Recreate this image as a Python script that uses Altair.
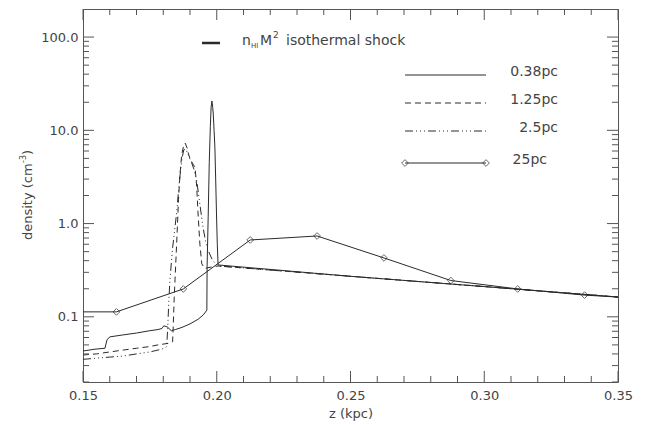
import altair as alt
import pandas as pd

# ---------------- data ----------------
z_038 = [0.1500, 0.1545, 0.1582, 0.1590, 0.1601, 0.1650, 0.1700, 0.1750, 0.1780, 0.1795,
         0.1802, 0.1815, 0.1830, 0.1845, 0.1870, 0.1900, 0.1930, 0.1950, 0.1963, 0.1964,
         0.1968, 0.1972, 0.1976, 0.1979, 0.1982, 0.1985, 0.1987, 0.1990, 0.1993, 0.1996,
         0.1999, 0.2002, 0.2005, 0.2500, 0.3000, 0.3500]
d_038 = [0.043, 0.045, 0.046, 0.057, 0.061, 0.064, 0.067, 0.071, 0.073, 0.075,
         0.080, 0.078, 0.071, 0.073, 0.077, 0.084, 0.094, 0.105, 0.118, 0.35,
         1.2, 4.5, 11.0, 17.8, 20.6, 17.5, 15.0, 10.0, 6.6, 3.0,
         1.3, 0.6, 0.36, 0.272, 0.211, 0.163]

z_125 = [0.150, 0.155, 0.160, 0.165, 0.170, 0.175, 0.178, 0.182, 0.1835, 0.1838,
         0.1841, 0.1844, 0.1850, 0.1857, 0.1863, 0.1869, 0.1876, 0.1882, 0.1888, 0.1895,
         0.1900, 0.1910, 0.1919, 0.1925, 0.1930, 0.1937, 0.1944, 0.1955, 0.1975, 0.2005,
         0.2500, 0.3000, 0.3500]
d_125 = [0.039, 0.040, 0.042, 0.044, 0.046, 0.048, 0.050, 0.052, 0.054, 0.09,
         0.16, 0.25, 0.6, 1.8, 3.5, 5.5, 6.8, 7.3, 6.6, 5.5,
         5.0, 4.4, 4.0, 2.5, 1.3, 0.6, 0.37, 0.33, 0.34, 0.351,
         0.272, 0.211, 0.163]

z_25 = [0.150, 0.155, 0.160, 0.165, 0.170, 0.175, 0.178, 0.1805, 0.1813, 0.1817,
        0.1821, 0.1825, 0.1835, 0.1850, 0.1860, 0.1870, 0.1877, 0.1884, 0.1892, 0.1900,
        0.1906, 0.1915, 0.1925, 0.1937, 0.1949, 0.1958, 0.1967, 0.1985, 0.2005, 0.2500,
        0.3000, 0.3500]
d_25 = [0.035, 0.036, 0.037, 0.038, 0.040, 0.042, 0.044, 0.046, 0.048, 0.08,
        0.15, 0.25, 0.55, 1.3, 2.8, 5.0, 6.2, 6.3, 5.6, 4.9,
        4.5, 3.8, 2.9, 1.6, 0.9, 0.65, 0.52, 0.40, 0.351, 0.272,
        0.211, 0.163]

z_25pc = [0.1375, 0.1625, 0.1875, 0.2125, 0.2375, 0.2625, 0.2875, 0.3125, 0.3375, 0.3625]
d_25pc = [0.113, 0.113, 0.199, 0.667, 0.736, 0.428, 0.245, 0.199, 0.171, 0.155]

x_ticks = [0.15, 0.20, 0.25, 0.30, 0.35]
x_minor = [0.16, 0.17, 0.18, 0.19, 0.21, 0.22, 0.23, 0.24, 0.26, 0.27, 0.28, 0.29,
           0.31, 0.32, 0.33, 0.34]
y_ticks = [0.1, 1.0, 10.0, 100.0]
y_minor = [m * 10 ** e for e in (-2, -1, 0, 1) for m in range(2, 10)]

legend_names = ["0.38pc", "1.25pc", "2.5pc", "25pc"]

# ---------------- style ----------------
W, H = 535, 373
FONT = "DejaVu Sans"
TXT = "#444444"
LINE = "#2a2a2a"
AX = "#555555"

xs = alt.Scale(domain=[0.15, 0.35], nice=False, zero=False)
ys = alt.Scale(type="log", domain=[0.02, 200], nice=False)

x_axis = alt.Axis(values=x_ticks, format=".2f", ticks=False, tickSize=0, domain=False,
                  grid=False, labelPadding=7, title="z (kpc)", titlePadding=5,
                  labelFont=FONT, titleFont=FONT, labelFontSize=13, titleFontSize=13,
                  labelColor=TXT, titleColor=TXT, titleFontWeight="normal",
                  labelFlush=False)
y_axis = alt.Axis(values=y_ticks, format=".1f", ticks=False, tickSize=0, domain=False,
                  grid=False, labelPadding=5, title=None,
                  labelFont=FONT, labelFontSize=13, labelColor=TXT)


def series_df(zs, ds):
    return pd.DataFrame({"z": zs, "d": ds, "o": list(range(len(zs)))})


def X(field):
    return alt.X(field, scale=xs, axis=x_axis)


def Y(field):
    return alt.Y(field, scale=ys, axis=y_axis)


def line_layer(df, dash):
    kw = dict(clip=True, color=LINE, strokeWidth=1)
    if dash:
        kw["strokeDash"] = dash
    return alt.Chart(df).mark_line(**kw).encode(x=X("z:Q"), y=Y("d:Q"), order="o:Q")


l038 = line_layer(series_df(z_038, d_038), None)
l125 = line_layer(series_df(z_125, d_125), [6, 4])
l25 = line_layer(series_df(z_25, d_25), [8, 3, 1, 3, 1, 3, 1, 3])
df25pc = series_df(z_25pc, d_25pc)
l25pc = line_layer(df25pc, None)
p25pc = alt.Chart(df25pc).mark_point(shape="diamond", filled=False, color=LINE, size=45,
                                     strokeWidth=1, clip=True).encode(
    x=X("z:Q"), y=Y("d:Q"))

# ---------------- inward ticks ----------------
def yticks(vals, length):
    df = pd.DataFrame({"v": vals})
    left = alt.Chart(df).mark_rule(color=AX, strokeWidth=1).encode(
        y=Y("v:Q"), x=alt.value(0), x2=alt.value(length))
    right = alt.Chart(df).mark_rule(color=AX, strokeWidth=1).encode(
        y=Y("v:Q"), x=alt.value(W), x2=alt.value(W - length))
    return [left, right]


def xticks(vals, length):
    df = pd.DataFrame({"v": vals})
    bot = alt.Chart(df).mark_rule(color=AX, strokeWidth=1).encode(
        x=X("v:Q"), y=alt.value(H), y2=alt.value(H - length))
    top = alt.Chart(df).mark_rule(color=AX, strokeWidth=1).encode(
        x=X("v:Q"), y=alt.value(0), y2=alt.value(length))
    return [bot, top]


tick_layers = (yticks(y_ticks, 11) + yticks(y_minor, 6) +
               xticks(x_ticks, 11) + xticks(x_minor, 6))

# ---------------- text annotations (pixel placed) ----------------
def txt(s, x, y, size=14, align="left", baseline="alphabetic", angle=0):
    return alt.Chart(pd.DataFrame({"t": [s]})).mark_text(
        text=s, font=FONT, fontSize=size, color=TXT, align=align, baseline=baseline,
        angle=angle
    ).encode(x=alt.value(x), y=alt.value(y))


def hline(x1, x2, y, dash=None, width=1.0):
    kw = dict(color=LINE, strokeWidth=width)
    if dash:
        kw["strokeDash"] = dash
    return alt.Chart(pd.DataFrame({"a": [0]})).mark_rule(**kw).encode(
        x=alt.value(x1), x2=alt.value(x2), y=alt.value(y))


def diamond(x, y):
    return alt.Chart(pd.DataFrame({"a": [0]})).mark_point(
        shape="diamond", filled=False, color=LINE, size=45, strokeWidth=1
    ).encode(x=alt.value(x), y=alt.value(y))


# y axis title: density (cm^-3), rotated, built from pieces for the superscript
y_title = [
    txt("density (cm", -51, 231, 13, angle=270),
    txt("-3", -57, 154, 8, angle=270),
    txt(")", -51, 146, 13, angle=270),
]

top_leg = [
    hline(119, 137, 34, width=2.5),
    txt("n", 159, 36, 14),
    txt("HI", 168, 39, 7),
    txt("M", 177, 36, 14),
    txt("2", 190, 29, 9),
    txt("isothermal shock", 203, 36, 14),
]

LX1, LX2 = 322, 403
legend_rows = [66, 94, 122, 154]
legend_right = [475, 475, 475, 464]
right_leg = [
    hline(LX1, LX2, legend_rows[0]),
    hline(LX1, LX2, legend_rows[1], dash=[6, 4]),
    hline(LX1, LX2, legend_rows[2], dash=[8, 3, 1, 3, 1, 3, 1, 3]),
    hline(LX1, LX2, legend_rows[3]),
    diamond(LX1, legend_rows[3]),
    diamond(LX2, legend_rows[3]),
]
for name, yy, xr in zip(legend_names, legend_rows, legend_right):
    right_leg.append(txt(name, xr, yy + 1, 14, align="right"))

chart = alt.layer(
    l038, l125, l25, l25pc, p25pc, *tick_layers, *y_title, *top_leg, *right_leg
).properties(
    width=W, height=H,
    autosize=alt.AutoSizeParams(type="none"),
    padding={"left": 83, "top": 9, "right": 33, "bottom": 43},
    background="white",
).configure_view(stroke=AX, strokeWidth=1)

chart.save("out.html", embed_options={"renderer": "svg", "actions": False})
